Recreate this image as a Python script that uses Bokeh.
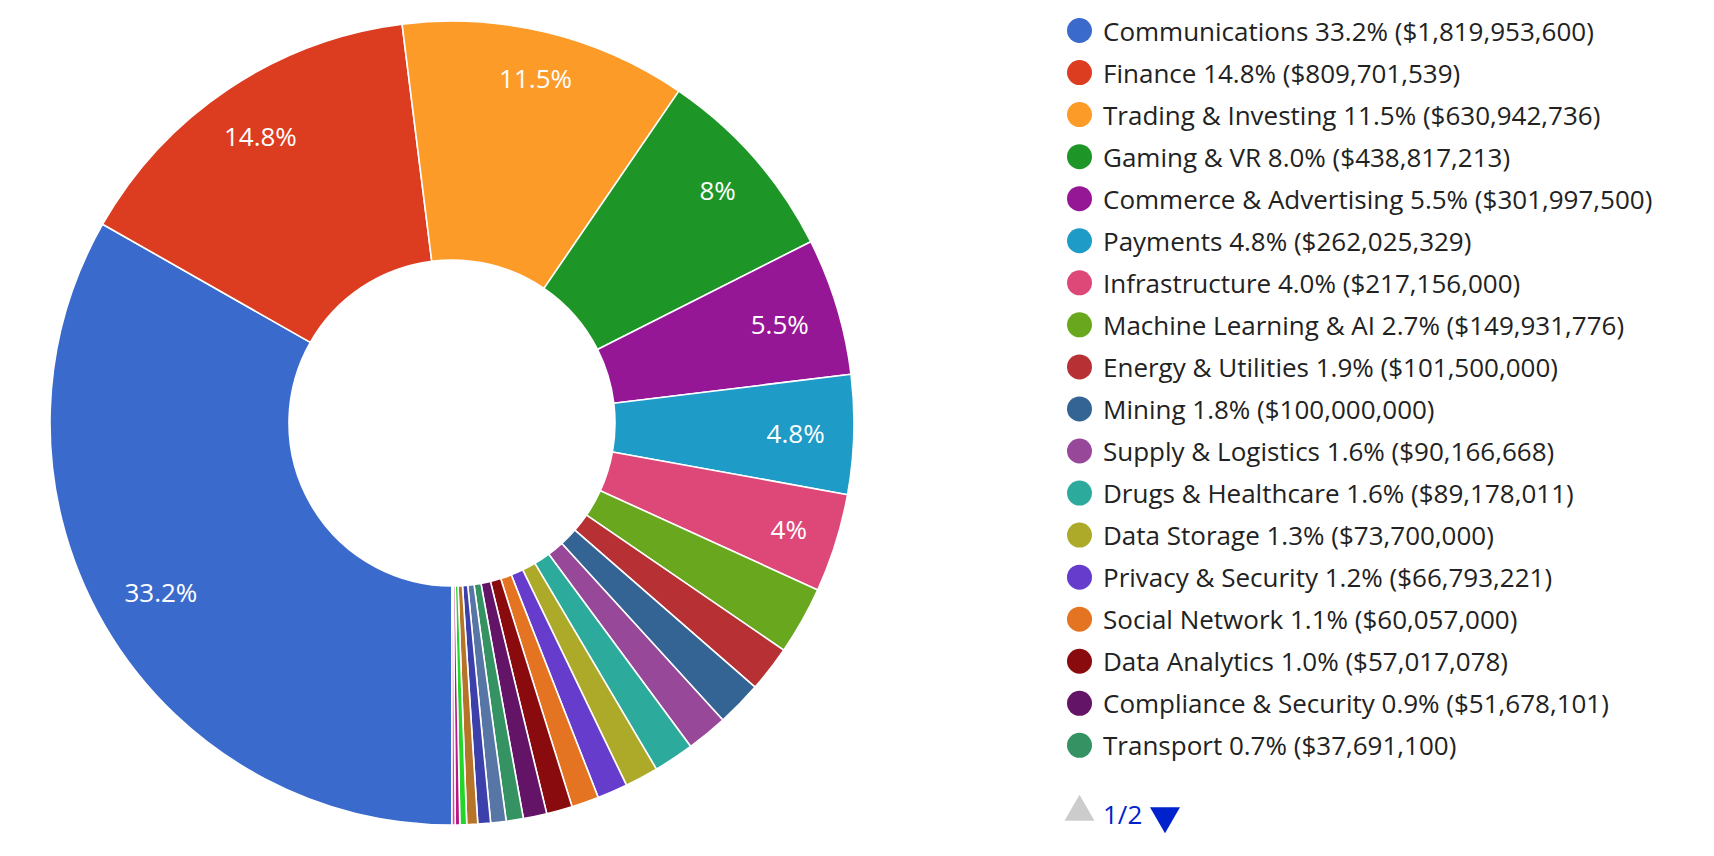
import math
from bokeh.plotting import figure
from bokeh.models import ColumnDataSource, Range1d
from bokeh.core.properties import value
from bokeh.embed import file_html
from bokeh.resources import INLINE

# ---- data (legend page 1 is readable; page 2 slices) ----
categories = [
    "Communications", "Finance", "Trading & Investing", "Gaming & VR",
    "Commerce & Advertising", "Payments", "Infrastructure",
    "Machine Learning & AI", "Energy & Utilities", "Mining",
    "Supply & Logistics", "Drugs & Healthcare", "Data Storage",
    "Privacy & Security", "Social Network", "Data Analytics",
    "Compliance & Security", "Transport",
]
amounts = [
    1819953600, 809701539, 630942736, 438817213, 301997500, 262025329,
    217156000, 149931776, 101500000, 100000000, 90166668, 89178011,
    73700000, 66793221, 60057000, 57017078, 51678101, 37691100,
]
# slices listed on the (unseen) second legend page, sizes estimated
hidden_categories = ["Other 1", "Other 2", "Other 3", "Other 4", "Other 5", "Other 6"]
hidden_amounts = [34000000, 28000000, 24000000, 15000000, 10000000, 7000000]

palette = [
    "#3a6bcc", "#dc3c20", "#fd9b29", "#1e9627", "#961796", "#1e9bc7",
    "#dd4878", "#69a81e", "#b73033", "#336494", "#984898", "#2caa9b",
    "#adaa29", "#663ccc", "#e47421", "#8a0b0e", "#641466", "#359263",
    "#5776a6", "#3c40ab", "#b57428", "#22d62a", "#b71985", "#f23a9e",
]
legend_page = "1/2"

# ---- derived ----
all_names = categories + hidden_categories
all_vals = amounts + hidden_amounts
total = float(sum(all_vals))
pcts = [v / total * 100 for v in all_vals]

W, H = 1698, 840
p = figure(width=W, height=H, x_range=Range1d(0, W), y_range=Range1d(0, H),
           output_backend="svg", toolbar_location=None, min_border=0,
           x_axis_type=None, y_axis_type=None)
p.grid.visible = False
p.outline_line_color = None
p.background_fill_color = "white"

cx, cy = 451.5, 840 - 422.5
R_out, R_in = 402, 163
start_deg = 180.0  # clockwise from 12 o'clock

starts, ends = [], []
acc = start_deg
for pc in pcts:
    a1 = acc
    a2 = acc + pc * 3.6
    starts.append(math.radians(90 - a2))
    ends.append(math.radians(90 - a1))
    acc = a2

src = ColumnDataSource(dict(start=starts, end=ends, color=palette[:len(all_vals)]))
p.annular_wedge(x=cx, y=cy, inner_radius=R_in, outer_radius=R_out,
                start_angle="start", end_angle="end", fill_color="color",
                line_color="white", line_width=1.6, source=src)

# slice labels: text box is pushed out until its outer edge reaches a fixed radius
label_fs = 26
adv = {"0": .572, "1": .572, "2": .572, "3": .572, "4": .572, "5": .572,
       "6": .572, "7": .572, "8": .572, "9": .572, ".": .266, "%": .823}
lx, ly, lt = [], [], []
acc = start_deg
for pc in pcts:
    mid = acc + pc * 1.8
    acc += pc * 3.6
    if pc >= 3.5:
        s = f"{pc:.1f}"
        if s.endswith(".0"):
            s = s[:-2]
        s += "%"
        t = math.radians(mid)
        half_w = 0.5 * label_fs * sum(adv[c] for c in s)
        half_h = 9.5
        rr = 0.928 * R_out - (half_w * abs(math.sin(t)) + half_h * abs(math.cos(t)))
        lx.append(cx + rr * math.sin(t))
        ly.append(cy + rr * math.cos(t))
        lt.append(s)
p.text(x=lx, y=ly, text=lt, text_color="white", text_font=value("Open Sans"),
       text_font_size=f"{label_fs}px", text_align="center", text_baseline="middle")

# legend (page 1)
leg_top, leg_step = 840 - 30, 42.05
mx, tx = 1079, 1102.5
ys = [leg_top - i * leg_step for i in range(len(categories))]
p.scatter(x=[mx] * len(categories), y=ys, size=25, marker="circle",
          fill_color=palette[:len(categories)], line_color=None)
labels = [f"{n} {pc:.1f}% (${v:,})" for n, pc, v in zip(categories, pcts, amounts)]
p.text(x=[tx] * len(categories), y=ys, text=labels, text_color="#222222",
       text_font=value("Open Sans"), text_font_size="26px",
       text_align="left", text_baseline="middle")

# pagination
py = 840 - 813.5
p.scatter(x=[1079], y=[py + 2], size=30, marker="triangle", fill_color="#cccccc", line_color=None)
p.text(x=[1102.5], y=[py], text=[legend_page], text_color="#0022cc",
       text_font=value("Open Sans"), text_font_size="26px",
       text_align="left", text_baseline="middle")
p.scatter(x=[1164.5], y=[py - 2], size=30, marker="inverted_triangle", fill_color="#0022cc", line_color=None)

open("out.html", "w").write(file_html(p, INLINE))
